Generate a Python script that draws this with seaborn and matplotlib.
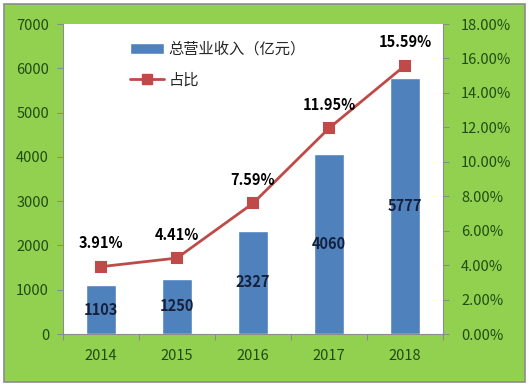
import matplotlib
matplotlib.use('Agg')
import matplotlib.pyplot as plt
from matplotlib.patches import Rectangle, Patch
from matplotlib.lines import Line2D
from matplotlib.ticker import FuncFormatter, MultipleLocator
import seaborn as sns

years = ['2014', '2015', '2016', '2017', '2018']
revenue = [1103, 1250, 2327, 4060, 5777]
share = [3.91, 4.41, 7.59, 11.95, 15.59]
bar_name = '总营业收入（亿元）'
line_name = '占比'

sns.set_style('white')
plt.rcParams['font.family'] = ['Noto Sans CJK SC', 'DejaVu Sans']

green = '#92D050'
tick_col = '#1E4D12'
bar_col = '#4F81BD'
line_col = '#BE4B48'

fig = plt.figure(figsize=(5.32, 3.85), dpi=100, facecolor='white')
fig.patches.append(Rectangle((4 / 532, 3 / 385), 521 / 532, 378 / 385,
                             transform=fig.transFigure, facecolor=green,
                             edgecolor='#8C8C8C', linewidth=1.2, zorder=-1))
ax = fig.add_axes([63 / 532, 51 / 385, 380 / 532, 310 / 385])
ax.set_facecolor('white')

sns.barplot(x=years, y=revenue, color=bar_col, width=0.4, saturation=1, ax=ax)
ax.set_ylim(0, 7000)
ax.set_xlim(-0.5, 4.5)
ax.yaxis.set_major_locator(MultipleLocator(1000))
for i, v in enumerate(revenue):
    ax.text(i, v / 2, str(v), ha='center', va='center', fontsize=10.5,
            fontweight='bold', color='#15203A')

ax2 = ax.twinx()
sns.pointplot(x=years, y=share, color=line_col, markers='s', ax=ax2,
              markersize=7, linewidth=2)
ax2.set_ylim(0, 18)
ax2.set_xlim(-0.5, 4.5)
ax2.yaxis.set_major_locator(MultipleLocator(2))
ax2.yaxis.set_major_formatter(FuncFormatter(lambda v, p: f'{v:.2f}%'))
for i, v in enumerate(share):
    ax2.annotate(f'{v:.2f}%', (i, v), xytext=(0, 11), textcoords='offset points',
                 ha='center', va='bottom', fontsize=10.5, fontweight='bold',
                 color='black')

for a in (ax, ax2):
    a.set_xlabel('')
    a.set_ylabel('')
    for s in a.spines.values():
        s.set_visible(False)
    a.tick_params(axis='y', colors='#8C8C8C', labelcolor=tick_col, labelsize=10.5,
                  length=4, width=0.8, direction='out', pad=6)

ax.spines['left'].set_visible(True)
ax.spines['left'].set_color('#8C8C8C')
ax.spines['bottom'].set_visible(True)
ax.spines['bottom'].set_color('#8C8C8C')
ax2.spines['right'].set_visible(True)
ax2.spines['right'].set_color('#8C8C8C')
ax.tick_params(axis='y', left=True)
ax2.tick_params(axis='y', right=True, pad=9)

ax.set_xticks(range(len(years)))
ax.set_xticklabels(years)
ax.tick_params(axis='x', length=0, labelcolor=tick_col, labelsize=10.5, pad=11)
ax.set_xticks([i + 0.5 for i in range(-1, len(years))], minor=True)
ax.tick_params(axis='x', which='minor', length=4, width=0.8, color='#8C8C8C',
               direction='out', bottom=True)
ax2.tick_params(axis='x', bottom=False, top=False, labelbottom=False)

handles = [Patch(facecolor=bar_col, label=bar_name),
           Line2D([], [], color=line_col, marker='s', markersize=7, linewidth=2,
                  label=line_name)]
ax2.legend(handles=handles, loc='upper left', bbox_to_anchor=(0.14, 0.99),
           frameon=False, fontsize=11, handlelength=2.2, labelspacing=0.9,
           handletextpad=0.3)

fig.savefig('out.png', dpi=100, facecolor='white')
